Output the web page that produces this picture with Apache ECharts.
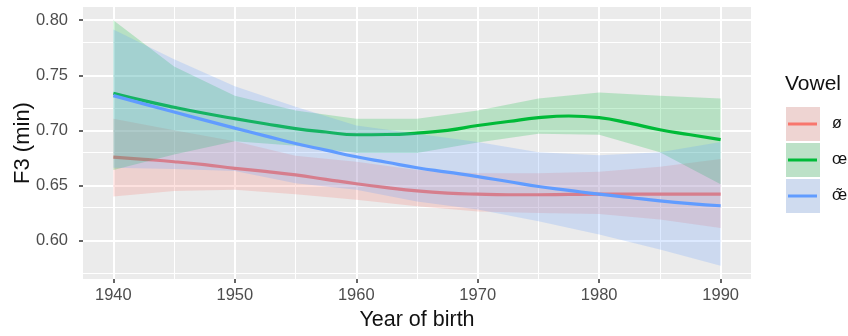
<!DOCTYPE html>
<html>
<head>
<meta charset="utf-8">
<script src="https://cdn.jsdelivr.net/npm/echarts@6/dist/echarts.min.js"></script>
<style>
html, body { margin: 0; padding: 0; background: #fff; }
#chart { width: 848px; height: 336px; }
</style>
</head>
<body>
<div id="chart"></div>
<script>
// smoothed F3 (min) by year of birth: fitted curve + confidence band per vowel
var fitYears = [1940, 1942.5, 1945, 1947.5, 1950, 1952.5, 1955, 1957.5, 1960, 1962.5, 1965,
	1967.5, 1970, 1972.5, 1975, 1977.5, 1980, 1982.5, 1985, 1987.5, 1990];
var bandYears = [1940, 1945, 1950, 1955, 1960, 1965, 1970, 1975, 1980, 1985, 1990];

var oSlashLine = [0.6757, 0.6737, 0.6715, 0.6688, 0.6655, 0.6627, 0.6595, 0.6555, 0.6515, 0.6480, 0.6450,
	0.6430, 0.6420, 0.6415, 0.6415, 0.6418, 0.6420, 0.6420, 0.6420, 0.6420, 0.6420];
var oSlashLow  = [0.6400, 0.6450, 0.6460, 0.6420, 0.6370, 0.6310, 0.6264, 0.6250, 0.6240, 0.6190, 0.6114];
var oSlashHigh = [0.7106, 0.7000, 0.6900, 0.6770, 0.6714, 0.6640, 0.6610, 0.6610, 0.6624, 0.6670, 0.6740];

var oeLine = [0.7337, 0.7270, 0.7210, 0.7155, 0.7106, 0.7060, 0.7016, 0.6985, 0.6960, 0.6962, 0.6975,
	0.7000, 0.7044, 0.7080, 0.7115, 0.7130, 0.7115, 0.7065, 0.7005, 0.6960, 0.6915];
var oeLow  = [0.6640, 0.6780, 0.6900, 0.6860, 0.6795, 0.6795, 0.6890, 0.6969, 0.6960, 0.6800, 0.6510];
var oeHigh = [0.8000, 0.7580, 0.7315, 0.7180, 0.7105, 0.7105, 0.7180, 0.7290, 0.7344, 0.7314, 0.7290];

var oeNasLine = [0.7315, 0.7240, 0.7166, 0.7093, 0.7020, 0.6950, 0.6880, 0.6820, 0.6760, 0.6710, 0.6660,
	0.6620, 0.6580, 0.6535, 0.6490, 0.6455, 0.6420, 0.6390, 0.6360, 0.6335, 0.6315];
var oeNasLow  = [0.6660, 0.6650, 0.6630, 0.6520, 0.6460, 0.6354, 0.6280, 0.6174, 0.6054, 0.5919, 0.5770];
var oeNasHigh = [0.7916, 0.7646, 0.7400, 0.7215, 0.7044, 0.6970, 0.6894, 0.6800, 0.6774, 0.6800, 0.6894];

var vowels = ['ø', 'œ', 'œ̃'];
var colors = ['#F8766D', '#00BA38', '#619CFF'];

var yTicks = [0.60, 0.65, 0.70, 0.75, 0.80];
var yMinor = [0.575, 0.625, 0.675, 0.725, 0.775];
var xTicks = [1940, 1950, 1960, 1970, 1980, 1990];
var xMinor = [1945, 1955, 1965, 1975, 1985];

var fonts = '"Liberation Sans", Arial, sans-serif';

var fits = [
	{line: oSlashLine, low: oSlashLow, high: oSlashHigh},
	{line: oeLine, low: oeLow, high: oeHigh},
	{line: oeNasLine, low: oeNasLow, high: oeNasHigh}
];

function pairs(xs, vals){
	var out = [];
	for (var i=0; i<xs.length; i++){
		out.push([xs[i], vals[i]]);
	}
	return out;
}

// ribbon polygon: upper edge left->right, lower edge right->left
function bandRenderer(k){
	return function(params, api){
		var pts = [];
		for (var i=0; i<bandYears.length; i++){
			pts.push(api.coord([bandYears[i], fits[k].high[i]]));
		}
		for (var i=bandYears.length-1; i>=0; i--){
			pts.push(api.coord([bandYears[i], fits[k].low[i]]));
		}
		return {
			type: 'polygon',
			shape: {points: pts},
			style: {fill: colors[k], opacity: 0.22}
		};
	};
}

// white grid lines of the grey panel
var gridMarks = [];
yTicks.forEach(function(v){ gridMarks.push({yAxis: v, lineStyle: {width: 2}}); });
yMinor.forEach(function(v){ gridMarks.push({yAxis: v, lineStyle: {width: 1}}); });
xTicks.forEach(function(v){ gridMarks.push({xAxis: v, lineStyle: {width: 2}}); });
xMinor.forEach(function(v){ gridMarks.push({xAxis: v, lineStyle: {width: 1}}); });

var series = [{
	type: 'line',
	data: [],
	z: 1,
	silent: true,
	markLine: {
		z: 1,
		silent: true,
		symbol: 'none',
		animation: false,
		label: {show: false},
		lineStyle: {color: '#ffffff', type: 'solid'},
		data: gridMarks
	}
}];

// same stacking as ggplot: ribbon then line, group after group
for (var k=0; k<fits.length; k++){
	series.push({
		type: 'custom',
		name: 'band' + k,
		renderItem: bandRenderer(k),
		data: [[bandYears[0], fits[k].low[0]]],
		z: 2 + 2*k,
		silent: true
	});
	series.push({
		type: 'line',
		name: vowels[k],
		data: pairs(fitYears, fits[k].line),
		symbol: 'none',
		smooth: true,
		lineStyle: {color: colors[k], width: 3.2},
		z: 3 + 2*k
	});
}

// ggplot-style legend keys
var keyBg = ['#EED4D2', '#BCE1C7', '#CFDBEF'];
var legendEls = [{
	type: 'text', left: 785, top: 74,
	style: {text: 'Vowel', fontSize: 21, fill: '#111', fontFamily: fonts}
}];
for (var j=0; j<vowels.length; j++){
	var keyTop = 107 + j*36;
	legendEls.push({type: 'rect', shape: {x: 786, y: keyTop, width: 34, height: 34}, style: {fill: keyBg[j]}});
	legendEls.push({type: 'line', shape: {x1: 788, y1: keyTop+17, x2: 817, y2: keyTop+17}, style: {stroke: colors[j], lineWidth: 3}});
	legendEls.push({type: 'text', style: {x: 832, y: keyTop+17, text: vowels[j], fontSize: 16, fill: '#111', fontFamily: fonts, verticalAlign: 'middle'}});
}

var chart = echarts.init(document.getElementById('chart'));
var option = {
	animation: false,
	grid: {
		left: 83, right: 97, top: 7, bottom: 55,
		show: true, backgroundColor: '#EBEBEB', borderWidth: 0
	},
	xAxis: {
		type: 'value',
		min: 1937.5,
		max: 1992.5,
		name: 'Year of birth',
		nameLocation: 'middle',
		nameGap: 30,
		nameMoveOverlap: false,
		nameTextStyle: {fontSize: 21.5, color: '#111', fontFamily: fonts},
		axisLine: {show: false},
		axisTick: {show: true, customValues: xTicks, length: 4, lineStyle: {color: '#333', width: 1.5}},
		axisLabel: {
			customValues: xTicks, margin: 8, fontSize: 16.5, color: '#4D4D4D', fontFamily: fonts,
			formatter: function(v){ return String(v); }
		},
		splitLine: {show: false}
	},
	yAxis: {
		type: 'value',
		min: 0.565,
		max: 0.812,
		name: 'F3 (min)',
		nameLocation: 'middle',
		nameGap: 49,
		nameMoveOverlap: false,
		nameTextStyle: {fontSize: 22, color: '#111', fontFamily: fonts},
		axisLine: {show: false},
		axisTick: {show: true, customValues: yTicks, length: 4, lineStyle: {color: '#333', width: 1.5}},
		axisLabel: {
			customValues: yTicks, margin: 15, fontSize: 16.5, color: '#4D4D4D', fontFamily: fonts,
			formatter: function(v){ return v.toFixed(2); }
		},
		splitLine: {show: false}
	},
	graphic: legendEls,
	series: series
};
chart.setOption(option);
</script>
</body>
</html>
